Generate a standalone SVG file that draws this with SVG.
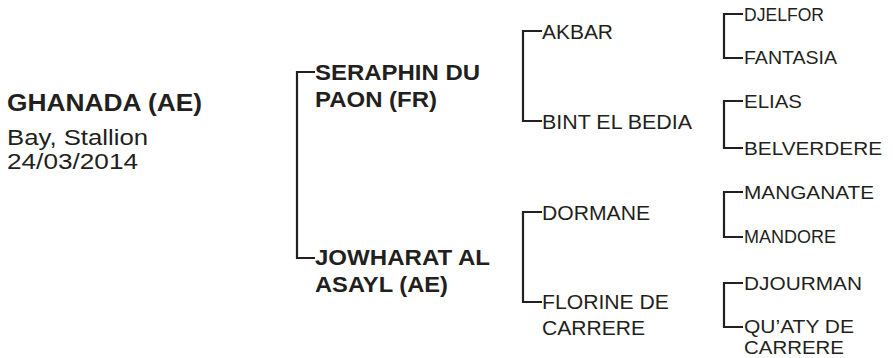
<svg xmlns="http://www.w3.org/2000/svg" width="893" height="358" viewBox="0 0 893 358">
<style>
text{font-family:"Liberation Sans",Arial,sans-serif;fill:#231f20}
.b{font-weight:bold;font-size:23px}
.m{font-size:22px}
.g1{font-size:22px;font-weight:bold}
.g2{font-size:19.5px}
.g3{font-size:19px}
.s{font-size:17.5px}
.c{fill:none;stroke:#231f20;stroke-width:2.2}
</style>
<rect width="893" height="358" fill="#fff"/>
<g id="connectors">
<path class="c" d="M315,72H297V258H315"/>
<path class="c" d="M542,31H523V121H542"/>
<path class="c" d="M542,212H523V302H542"/>
<path class="c" d="M743,14H724V58H743"/>
<path class="c" d="M743,101H724V148H743"/>
<path class="c" d="M743,192H724V237H743"/>
<path class="c" d="M743,283H724V327H743"/>
</g>
<g id="ghanada">
<text class="b" x="7" y="111" textLength="195" lengthAdjust="spacingAndGlyphs">GHANADA (AE)</text>
<text class="m" x="7" y="145" textLength="141" lengthAdjust="spacingAndGlyphs">Bay, Stallion</text>
<text class="m" x="7" y="169" textLength="131" lengthAdjust="spacingAndGlyphs">24/03/2014</text>
</g>
<g id="seraphin"><text class="g1" x="315" y="80" textLength="165" lengthAdjust="spacingAndGlyphs">SERAPHIN DU</text><text class="g1" x="315" y="107" textLength="122" lengthAdjust="spacingAndGlyphs">PAON (FR)</text></g>
<g id="jowharat"><text class="g1" x="315" y="265" textLength="175" lengthAdjust="spacingAndGlyphs">JOWHARAT AL</text><text class="g1" x="315" y="292" textLength="133" lengthAdjust="spacingAndGlyphs">ASAYL (AE)</text></g>
<g id="akbar"><text class="g2" x="542" y="39" textLength="71" lengthAdjust="spacingAndGlyphs">AKBAR</text></g>
<g id="bint"><text class="g2" x="542" y="129" textLength="150" lengthAdjust="spacingAndGlyphs">BINT EL BEDIA</text></g>
<g id="dormane"><text class="g2" x="542" y="220" textLength="108" lengthAdjust="spacingAndGlyphs">DORMANE</text></g>
<g id="florine"><text class="g2" x="542" y="309" textLength="127" lengthAdjust="spacingAndGlyphs">FLORINE DE</text><text class="g2" x="542" y="335" textLength="103" lengthAdjust="spacingAndGlyphs">CARRERE</text></g>
<g id="djelfor"><text class="s" x="744" y="21" textLength="80" lengthAdjust="spacingAndGlyphs">DJELFOR</text></g>
<g id="fantasia"><text class="s" x="744" y="64" textLength="93" lengthAdjust="spacingAndGlyphs">FANTASIA</text></g>
<g id="elias"><text class="g3" x="744" y="108" textLength="58" lengthAdjust="spacingAndGlyphs">ELIAS</text></g>
<g id="belverdere"><text class="g3" x="744" y="155" textLength="138" lengthAdjust="spacingAndGlyphs">BELVERDERE</text></g>
<g id="manganate"><text class="g3" x="744" y="199" textLength="130" lengthAdjust="spacingAndGlyphs">MANGANATE</text></g>
<g id="mandore"><text class="s" x="744" y="243" textLength="92" lengthAdjust="spacingAndGlyphs">MANDORE</text></g>
<g id="djourman"><text class="g3" x="744" y="290" textLength="118" lengthAdjust="spacingAndGlyphs">DJOURMAN</text></g>
<g id="quaty"><text class="g3" x="744" y="333" textLength="110" lengthAdjust="spacingAndGlyphs">QU’ATY DE</text><text class="g3" x="744" y="354" textLength="100" lengthAdjust="spacingAndGlyphs">CARRERE</text></g>
</svg>
